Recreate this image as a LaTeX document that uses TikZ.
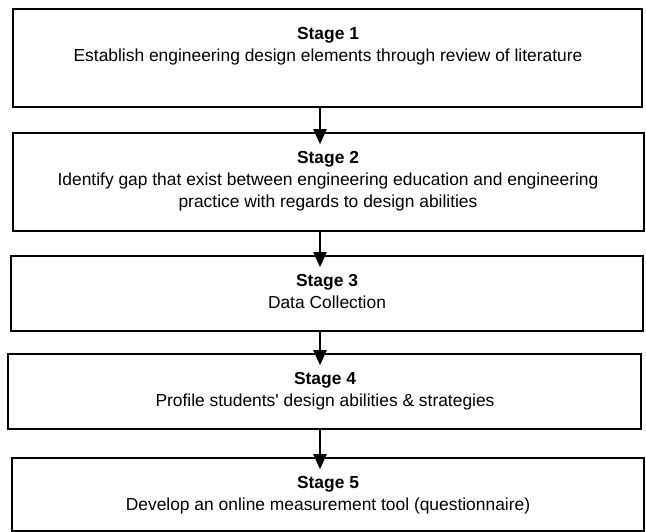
\documentclass[tikz,border=0pt]{standalone}
\usepackage{fontspec}
\setmainfont{Liberation Sans}[Ligatures=TeXOff]
\usetikzlibrary{arrows.meta}
\begin{document}
\begin{tikzpicture}[x=1pt,y=-1pt,
  box/.style={draw=black,line width=1.6pt,fill=white,inner sep=0pt,rectangle},
  txt/.style={anchor=north,inner sep=0pt,align=center,font=\fontsize{17.4}{22}\selectfont},
  arr/.style={line width=2pt,-{Triangle[width=13pt,length=15pt]},shorten >=-12pt}]
\useasboundingbox (0,0) rectangle (646,532);
\node[box,minimum width=629pt,minimum height=98pt] (b1) at (327.5,58) {};
\node[box,minimum width=631pt,minimum height=98pt] (b2) at (328.5,182) {};
\node[box,minimum width=632pt,minimum height=75pt] (b3) at (327,293.5) {};
\node[box,minimum width=633pt,minimum height=75pt] (b4) at (324.5,391.5) {};
\node[box,minimum width=632pt,minimum height=73pt] (b5) at (328,494.5) {};
\coordinate (ax) at (320,0);
\node[txt] (t1) at (328,27) {\textbf{Stage 1}\\Establish engineering design elements through review of literature};
\node[txt] (t2) at (328,151) {\textbf{Stage 2}\\Identify gap that exist between engineering education and engineering\\practice with regards to design abilities};
\node[txt] (t3) at (327,274) {\textbf{Stage 3}\\Data Collection};
\node[txt] (t4) at (325,372) {\textbf{Stage 4}\\Profile students' design abilities \& strategies};
\node[txt] (t5) at (328,476) {\textbf{Stage 5}\\Develop an online measurement tool (questionnaire)};
\draw[arr] (b1.south -| ax) -- (b2.north -| ax);
\draw[arr] (b2.south -| ax) -- (b3.north -| ax);
\draw[arr] (b3.south -| ax) -- (b4.north -| ax);
\draw[arr] (b4.south -| ax) -- (b5.north -| ax);
\end{tikzpicture}
\end{document}
